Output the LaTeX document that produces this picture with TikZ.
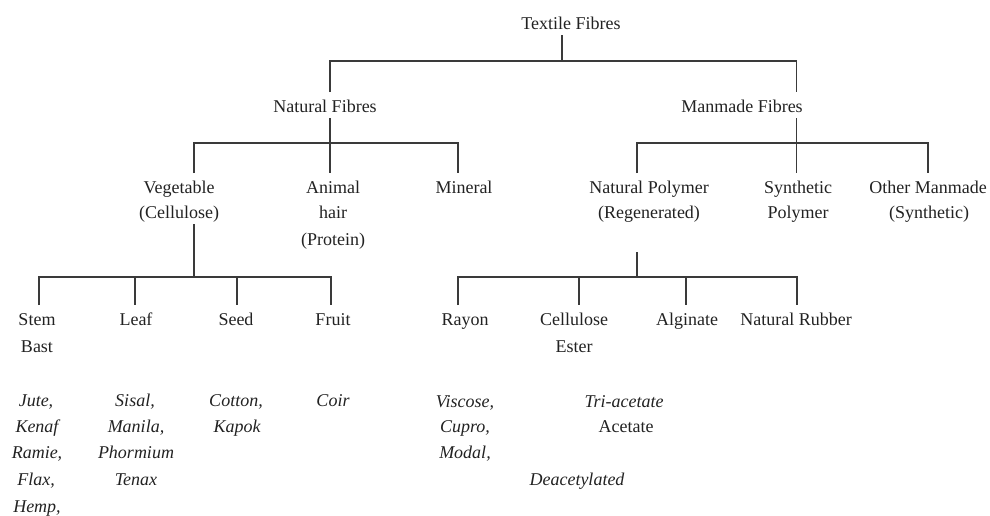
\documentclass[tikz,border=0pt]{standalone}
\usepackage{fontspec}
\setmainfont{Liberation Serif}
\definecolor{linec}{HTML}{3A3A3A}
\definecolor{txtc}{HTML}{222222}
\tikzset{
  lbl/.style={anchor=base, inner sep=0pt, outer sep=0pt, text height=15pt, text depth=4.5pt,
    font=\fontsize{13.5}{16}\selectfont, text=txtc},
  itlbl/.style={lbl, font=\fontsize{13.5}{16}\selectfont\itshape},
  conn/.style={draw=linec, line width=1pt}
}
\begin{document}
\begin{tikzpicture}[x=0.75pt,y=-0.75pt]
\useasboundingbox (0,0) rectangle (990,515);
% level 0 and 1
\node[lbl] (tf) at (571,29) {Textile Fibres};
\node[lbl] (nf) at (325,112) {Natural Fibres};
\node[lbl] (mf) at (742,112) {Manmade Fibres};
% level 2
\node[lbl] (veg) at (179,193) {Vegetable};
\node[lbl] (veg2) at (179,218) {(Cellulose)};
\node[lbl] (ani) at (333,193) {Animal};
\node[lbl] (ani2) at (333,218) {hair};
\node[lbl] (ani3) at (333,245) {(Protein)};
\node[lbl] (min) at (464,193) {Mineral};
\node[lbl] (np) at (649,193) {Natural Polymer};
\node[lbl] (np2) at (649,218) {(Regenerated)};
\node[lbl] (sp) at (798,193) {Synthetic};
\node[lbl] (sp2) at (798,218) {Polymer};
\node[lbl] (om) at (928,193) {Other Manmade};
\node[lbl] (om2) at (929,218) {(Synthetic)};
% level 3 vegetable
\node[lbl] (stem) at (37,325) {Stem};
\node[lbl] (stem2) at (37,352) {Bast};
\node[lbl] (leaf) at (136,325) {Leaf};
\node[lbl] (seed) at (236,325) {Seed};
\node[lbl] (fruit) at (333,325) {Fruit};
\node[itlbl] (ex1) at (36,406) {Jute,};
\node[itlbl] (ex2) at (37,432) {Kenaf};
\node[itlbl] (ex3) at (37,458) {Ramie,};
\node[itlbl] (ex4) at (36,485) {Flax,};
\node[itlbl] (ex5) at (37,512) {Hemp,};
\node[itlbl] (lf1) at (135,406) {Sisal,};
\node[itlbl] (lf2) at (136,432) {Manila,};
\node[itlbl] (lf3) at (136,458) {Phormium};
\node[itlbl] (lf4) at (136,485) {Tenax};
\node[itlbl] (sd1) at (236,406) {Cotton,};
\node[itlbl] (sd2) at (237,432) {Kapok};
\node[itlbl] (fr1) at (333,406) {Coir};
% level 3 natural polymer
\node[lbl] (ray) at (465,325) {Rayon};
\node[lbl] (cel) at (574,325) {Cellulose};
\node[lbl] (cel2) at (574,352) {Ester};
\node[lbl] (alg) at (687,325) {Alginate};
\node[lbl] (rub) at (796,325) {Natural Rubber};
\node[itlbl] (ry1) at (465,407) {Viscose,};
\node[itlbl] (ry2) at (465,432) {Cupro,};
\node[itlbl] (ry3) at (465,458) {Modal,};
\node[itlbl] (ce1) at (624,407) {Tri-acetate};
\node[lbl] (ce2) at (626,432) {Acetate};
\node[itlbl] (ce3) at (577,485) {Deacetylated};
% bus coordinates
\coordinate (b0) at (562,61);
\coordinate (b0l) at (330,61);
\coordinate (b0r) at (796.5,61);
\coordinate (b1) at (330,143);
\coordinate (b1l) at (194,143);
\coordinate (b1r) at (458,143);
\coordinate (b2) at (796.5,143);
\coordinate (b2l) at (637,143);
\coordinate (b2r) at (928,143);
\coordinate (b3) at (194,277);
\coordinate (b3a) at (39,277);
\coordinate (b3b) at (135,277);
\coordinate (b3c) at (237,277);
\coordinate (b3d) at (331,277);
\coordinate (b4) at (637,277);
\coordinate (b4a) at (458,277);
\coordinate (b4b) at (579,277);
\coordinate (b4c) at (686,277);
\coordinate (b4d) at (797,277);
% connectors
\draw[conn] (tf.south -| b0) -- (b0);
\draw[conn] (nf.north -| b0l) -- (b0l) -- (b0r) -- (mf.north -| b0r);
\draw[conn] (nf.south -| b1) -- (b1);
\draw[conn] (veg.north -| b1l) -- (b1l) -- (b1r) -- (min.north -| b1r);
\draw[conn] (b1) -- (ani.north -| b1);
\draw[conn] (mf.south -| b2) -- (b2);
\draw[conn] (np.north -| b2l) -- (b2l) -- (b2r) -- (om.north -| b2r);
\draw[conn] (b2) -- (sp.north -| b2);
\draw[conn] (veg2.south -| b3) -- (b3);
\draw[conn] (stem.north -| b3a) -- (b3a) -- (b3d) -- (fruit.north -| b3d);
\draw[conn] (b3b) -- (leaf.north -| b3b);
\draw[conn] (b3c) -- (seed.north -| b3c);
\draw[conn, shorten <=21pt] (np2.south -| b4) -- (b4);
\draw[conn] (ray.north -| b4a) -- (b4a) -- (b4d) -- (rub.north -| b4d);
\draw[conn] (b4b) -- (cel.north -| b4b);
\draw[conn] (b4c) -- (alg.north -| b4c);
\end{tikzpicture}
\end{document}
